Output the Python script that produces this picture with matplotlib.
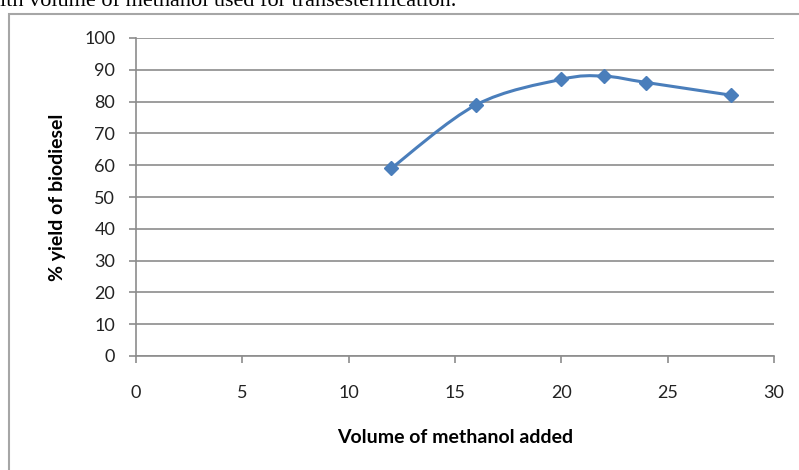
import numpy as np
import matplotlib.pyplot as plt
from matplotlib.path import Path
from matplotlib.patches import PathPatch, Rectangle

volume = [12, 16, 20, 22, 24, 28]
yield_pct = [59, 79, 87, 88, 86, 82]
xticks = [0, 5, 10, 15, 20, 25, 30]
yticks = list(range(0, 101, 10))

blue = "#4a7ebb"
grey = "#8c8c8c"

plt.rcParams["font.family"] = ["Lato", "DejaVu Sans"]

fig = plt.figure(figsize=(7.99, 4.70), dpi=100)
ax = fig.add_axes([136 / 799, 1 - 356 / 470, 638 / 799, 318 / 470])

# smoothed line, Catmull-Rom style bezier segments between the points
pts = np.column_stack([volume, yield_pct]).astype(float)
verts = [pts[0]]
codes = [Path.MOVETO]
n = len(pts)
for i in range(n - 1):
    p0 = pts[max(i - 1, 0)]
    p1 = pts[i]
    p2 = pts[i + 1]
    p3 = pts[min(i + 2, n - 1)]
    c1 = p1 + (p2 - p0) / 6
    c2 = p2 - (p3 - p1) / 6
    verts += [c1, c2, p2]
    codes += [Path.CURVE4] * 3
ax.add_patch(PathPatch(Path(verts, codes), fill=False, edgecolor=blue, lw=2.2, zorder=3))
ax.plot(volume, yield_pct, ls="none", marker="D", ms=7.5, color=blue, zorder=4)

ax.set_xlim(0, 30)
ax.set_ylim(0, 100)
ax.set_xticks(xticks)
ax.set_yticks(yticks)
ax.yaxis.grid(True, color=grey, lw=1.2)
ax.set_axisbelow(True)
for s in ["top", "right"]:
    ax.spines[s].set_visible(False)
for s in ["left", "bottom"]:
    ax.spines[s].set_color(grey)
    ax.spines[s].set_linewidth(1.2)
ax.tick_params(axis="both", colors=grey, width=1.2, length=5, labelsize=13,
               labelcolor="#222222")
ax.tick_params(axis="x", pad=16)
ax.tick_params(axis="y", pad=10)

ax.set_xlabel("Volume of methanol added", fontsize=14, fontweight="bold", labelpad=20)
ax.set_ylabel("% yield of biodiesel", fontsize=14, fontweight="bold", labelpad=13)

# outer chart frame
fig.patches.append(Rectangle((9 / 799, -0.1), 1.2, 1 - 14 / 470 + 0.1,
                             transform=fig.transFigure, fill=False,
                             edgecolor="#a6a6a6", lw=1.5))
fig.text(0.0, 1 - 6 / 470, "ith volume of methanol used for transesterification.",
         fontsize=16, family="Liberation Serif", va="baseline", ha="left")

fig.savefig("out.png", dpi=100)
